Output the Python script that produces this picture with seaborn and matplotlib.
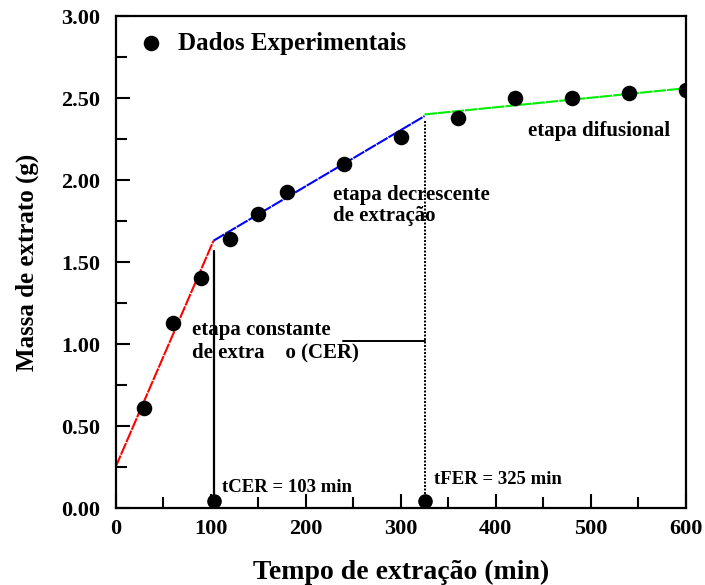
import matplotlib
matplotlib.use("Agg")
import matplotlib.pyplot as plt
import seaborn as sns
import pandas as pd
from matplotlib.ticker import MultipleLocator, FormatStrFormatter

# Experimental extraction curve
tempo = [30, 60, 90, 120, 150, 180, 240, 300, 360, 420, 480, 540, 600]
massa = [0.61, 1.13, 1.40, 1.64, 1.79, 1.93, 2.10, 2.26, 2.38, 2.50, 2.50, 2.53, 2.55]

# Characteristic times (min)
t_cer = 103
t_fer = 325

# Fitted straight lines for each extraction stage
cer_t = [0, t_cer]
cer_m = [0.25, 1.63]
fer_t = [t_cer, t_fer]
fer_m = [1.63, 2.39]
dif_t = [t_fer, 600]
dif_m = [2.40, 2.56]

sns.set_style("ticks")
plt.rcParams["font.family"] = ["Liberation Serif", "DejaVu Serif"]
plt.rcParams["font.weight"] = "bold"
plt.rcParams["text.color"] = "black"
plt.rcParams["axes.labelcolor"] = "black"
plt.rcParams["xtick.color"] = "black"
plt.rcParams["ytick.color"] = "black"

fig = plt.figure(figsize=(7.05, 5.85), dpi=100)
ax = fig.add_axes([0.164, 0.1316, 0.809, 0.841])

line_style = dict(linewidth=1.5, linestyle=(0, (6, 0.5)), legend=False)
sns.lineplot(x=cer_t, y=cer_m, color="#ff0000", ax=ax, **line_style)
sns.lineplot(x=fer_t, y=fer_m, color="#0000ff", ax=ax, **line_style)
sns.lineplot(x=dif_t, y=dif_m, color="#00ee00", ax=ax, **line_style)

df = pd.DataFrame({"tempo": tempo, "massa": massa})
sns.scatterplot(data=df, x="tempo", y="massa", color="black", s=125,
                edgecolor="black", linewidth=0, ax=ax, zorder=5,
                label="Dados Experimentais")

# Markers for tCER and tFER on the time axis
ax.scatter([t_cer, t_fer], [0.04, 0.04], s=90, color="black", zorder=5)

# Vertical guides at the characteristic times
ax.plot([t_cer, t_cer], [0, 1.57], color="black", linewidth=1.6)
ax.plot([t_fer, t_fer], [0, 2.36], color="black", linewidth=1.4,
        linestyle=(0, (1, 0.8)))
ax.plot([239, t_fer], [1.02, 1.02], color="black", linewidth=1.4)

txt = dict(fontsize=15, fontweight="bold", va="center", ha="left",
           color="black")
ax.text(80, 1.085, "etapa constante", **txt)
ax.text(80, 0.95, "de extra    o (CER)", **txt)
ax.text(229, 1.91, "etapa decrescente", **txt)
ax.text(229, 1.78, "de extração", **txt)
ax.text(434, 2.30, "etapa difusional", **txt)
ax.text(112, 0.128, "tCER = 103 min", fontsize=13.5, fontweight="bold",
        va="center", ha="left", color="black")
ax.text(335, 0.172, "tFER = 325 min", fontsize=13.5, fontweight="bold",
        va="center", ha="left", color="black")

ax.set_xlim(0, 600)
ax.set_ylim(0, 3.0)
ax.xaxis.set_major_locator(MultipleLocator(100))
ax.xaxis.set_minor_locator(MultipleLocator(50))
ax.yaxis.set_major_locator(MultipleLocator(0.5))
ax.yaxis.set_minor_locator(MultipleLocator(0.25))
ax.yaxis.set_major_formatter(FormatStrFormatter("%.2f"))

ax.tick_params(which="both", direction="in", top=False, right=False,
               width=1.5, labelsize=16, colors="black")
ax.tick_params(which="major", length=10)
ax.tick_params(which="minor", length=8)
ax.tick_params(axis="x", pad=8)
ax.tick_params(axis="y", pad=11)
for lbl in ax.get_xticklabels() + ax.get_yticklabels():
    lbl.set_fontweight("bold")

for side in ["left", "bottom", "top", "right"]:
    ax.spines[side].set_visible(True)
    ax.spines[side].set_linewidth(1.6)
    ax.spines[side].set_color("black")

ax.set_xlabel("Tempo de extração (min)", fontsize=20, fontweight="bold",
              labelpad=15, color="black")
ax.set_ylabel("Massa de extrato (g)", fontsize=18, fontweight="bold",
              labelpad=16, color="black")

leg = ax.legend(loc="center left", bbox_to_anchor=(-0.022, 0.945),
                frameon=False, handletextpad=0.1, markerscale=1.0,
                labelcolor="black",
                prop={"family": "Liberation Serif", "weight": "bold", "size": 18})

fig.savefig("out.png", dpi=100)
